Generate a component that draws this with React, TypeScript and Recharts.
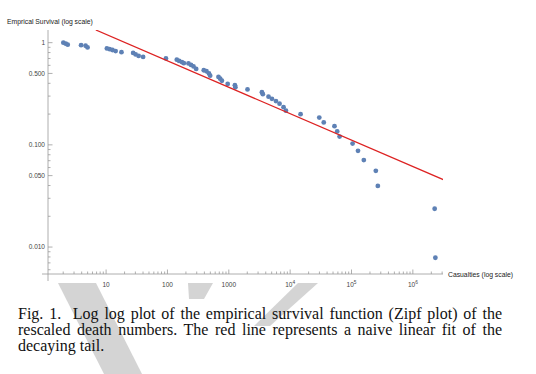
import React from "react";
import { ScatterChart, Scatter, XAxis, YAxis } from "recharts";

const casualties = [
  2.01, 2.2, 2.37, 3.91, 4.63, 4.99, 10.3, 11.4, 12.7, 14.3, 17.8, 27.6, 30.3, 33.9, 40.1, 94.5, 142, 155, 172, 185,
  220, 242, 266, 294, 391, 433, 475, 497, 679, 724, 772, 959, 1258, 1281, 2018, 3467, 3586, 4442, 5047, 5866, 6715,
  7800, 8537, 14790, 29840, 35300, 52800, 58470, 63970, 104200, 127600, 158800, 249100, 268600, 2267000, 2328000,
];
const survival = [
  1, 0.978, 0.956, 0.945, 0.933, 0.898, 0.878, 0.864, 0.848, 0.828, 0.807, 0.793, 0.767, 0.741, 0.725, 0.701, 0.681,
  0.662, 0.645, 0.63, 0.626, 0.605, 0.585, 0.553, 0.537, 0.525, 0.499, 0.475, 0.462, 0.444, 0.424, 0.395, 0.384, 0.366,
  0.349, 0.327, 0.313, 0.296, 0.282, 0.268, 0.253, 0.2335, 0.216, 0.1996, 0.185, 0.1656, 0.1524, 0.1352, 0.1206, 0.103,
  0.0874, 0.0709, 0.0557, 0.0396, 0.0237, 0.00786,
];

// naive linear fit (end points of the red line)
const fitX = [6.8, 3.18e6];
const fitY = [1.33, 0.0455];

const xMajor = [10, 100, 1000, 1e4, 1e5, 1e6];
const xMajorLabels = ["10", "100", "1000", "10^4", "10^5", "10^6"];
const xMinor = [
  2, 3, 4, 5, 6, 7, 8, 9, 20, 30, 40, 50, 60, 70, 80, 90, 200, 300, 400, 500, 600, 700, 800, 900, 2000, 3000, 4000,
  5000, 6000, 7000, 8000, 9000, 2e4, 3e4, 4e4, 5e4, 6e4, 7e4, 8e4, 9e4, 2e5, 3e5, 4e5, 5e5, 6e5, 7e5, 8e5, 9e5, 2e6,
  3e6,
];
const yMajor = [1, 0.5, 0.1, 0.05, 0.01];
const yMajorLabels = ["1", "0.500", "0.100", "0.050", "0.010"];
const yMinor = [0.9, 0.8, 0.7, 0.6, 0.4, 0.3, 0.2, 0.09, 0.08, 0.07, 0.06, 0.04, 0.03, 0.02, 0.009, 0.008, 0.007, 0.006];

const points = casualties.map((x, i) => ({ x, y: survival[i] }));
const fitLine = fitX.map((x, i) => ({ x, y: fitY[i] }));

const AXIS = "#9a9a9a";
const LABEL = "#444";
const FONT = "'Liberation Sans', Arial, sans-serif";

const XTick = (props: any) => {
  const { x, y, payload } = props;
  const idx = xMajor.indexOf(payload.value);
  const major = idx >= 0;
  const [base, sup] = major ? xMajorLabels[idx].split("^") : ["", ""];
  return (
    <g>
      <line x1={x} x2={x} y1={y} y2={y - (major ? 4.5 : 2.5)} stroke={AXIS} strokeWidth={0.8} />
      {major && (
        <text x={x} y={y + 13} textAnchor="middle" fontSize={6.5} fill={LABEL} fontFamily={FONT}>
          {base}
          {sup && (
            <tspan fontSize={4.8} dy={-3}>
              {sup}
            </tspan>
          )}
        </text>
      )}
    </g>
  );
};

const YTick = (props: any) => {
  const { x, y, payload } = props;
  const idx = yMajor.indexOf(payload.value);
  const major = idx >= 0;
  return (
    <g>
      <line x1={x} x2={x + (major ? 4.5 : 2.5)} y1={y} y2={y} stroke={AXIS} strokeWidth={0.8} />
      {major && (
        <text x={x - 3} y={y + 2.3} textAnchor="end" fontSize={6.5} fill={LABEL} fontFamily={FONT}>
          {yMajorLabels[idx]}
        </text>
      )}
    </g>
  );
};

const Empty = () => <g />;

export default function App() {
  return (
    <div style={{ position: "absolute", left: 0, top: 0, width: 536, height: 374, background: "#fff", overflow: "hidden" }}>
      <svg width={536} height={374} style={{ position: "absolute", left: 0, top: 0 }}>
        {/* faint watermark strokes */}
        <polygon points="58,283 96,283 142,374 104,374" fill="#d4d4d4" />
        <polygon points="188,283 213,283 204,299 189,299" fill="#d4d4d4" />
        <polygon points="298,283 318,283 270,326 254,326" fill="#d4d4d4" />
      </svg>
      <div style={{ position: "absolute", left: 0, top: 0 }}>
        <ScatterChart width={536} height={300} margin={{ top: 30, right: 93, bottom: 0, left: 0 }}>
          <XAxis
            type="number"
            dataKey="x"
            scale="log"
            domain={[1.13, 3.1e6]}
            allowDataOverflow
            ticks={[...xMinor, ...xMajor].sort((a, b) => a - b)}
            interval={0}
            tickSize={0}
            tickMargin={0}
            tickLine={false}
            tick={XTick}
            axisLine={{ stroke: AXIS, strokeWidth: 0.8 }}
            height={26}
          />
          <YAxis
            type="number"
            dataKey="y"
            scale="log"
            domain={[0.00545, 1.33]}
            allowDataOverflow
            ticks={[...yMinor, ...yMajor].sort((a, b) => a - b)}
            interval={0}
            tickSize={0}
            tickMargin={0}
            tickLine={false}
            tick={YTick}
            axisLine={{ stroke: AXIS, strokeWidth: 0.8 }}
            width={48}
          />
          <Scatter data={points} fill="#5e81b5" isAnimationActive={false} shape={(p: any) => <circle cx={p.cx} cy={p.cy} r={2.4} fill="#5e81b5" />} />
          <Scatter
            data={fitLine}
            isAnimationActive={false}
            line={{ stroke: "#dd2222", strokeWidth: 1.3 }}
            shape={Empty}
          />
        </ScatterChart>
      </div>
      <svg width={536} height={300} style={{ position: "absolute", left: 0, top: 0, pointerEvents: "none" }}>
        {/* axes cross slightly past the origin */}
        <line x1={48} x2={48} y1={274} y2={281} stroke={AXIS} strokeWidth={0.8} />
        <line x1={42} x2={48} y1={274} y2={274} stroke={AXIS} strokeWidth={0.8} />
        <text x={7} y={24.3} fontSize={6.8} fill="#222" fontFamily={FONT}>
          Emprical Survival (log scale)
        </text>
        <text x={448} y={277.3} fontSize={6.8} fill="#222" fontFamily={FONT}>
          Casualties (log scale)
        </text>
      </svg>
      <div
        style={{
          position: "absolute",
          left: 18,
          top: 306,
          width: 484,
          fontFamily: "'Liberation Serif', 'Times New Roman', serif",
          fontSize: 16,
          lineHeight: "16px",
          color: "#111",
        }}
      >
        <div style={{ textAlign: "justify", textAlignLast: "justify", whiteSpace: "nowrap" }}>
          Fig. 1.&nbsp; Log log plot of the empirical survival function (Zipf plot) of the
        </div>
        <div style={{ textAlign: "justify", textAlignLast: "justify", whiteSpace: "nowrap" }}>
          rescaled death numbers. The red line represents a naive linear fit of the
        </div>
        <div>decaying tail.</div>
      </div>
    </div>
  );
}
